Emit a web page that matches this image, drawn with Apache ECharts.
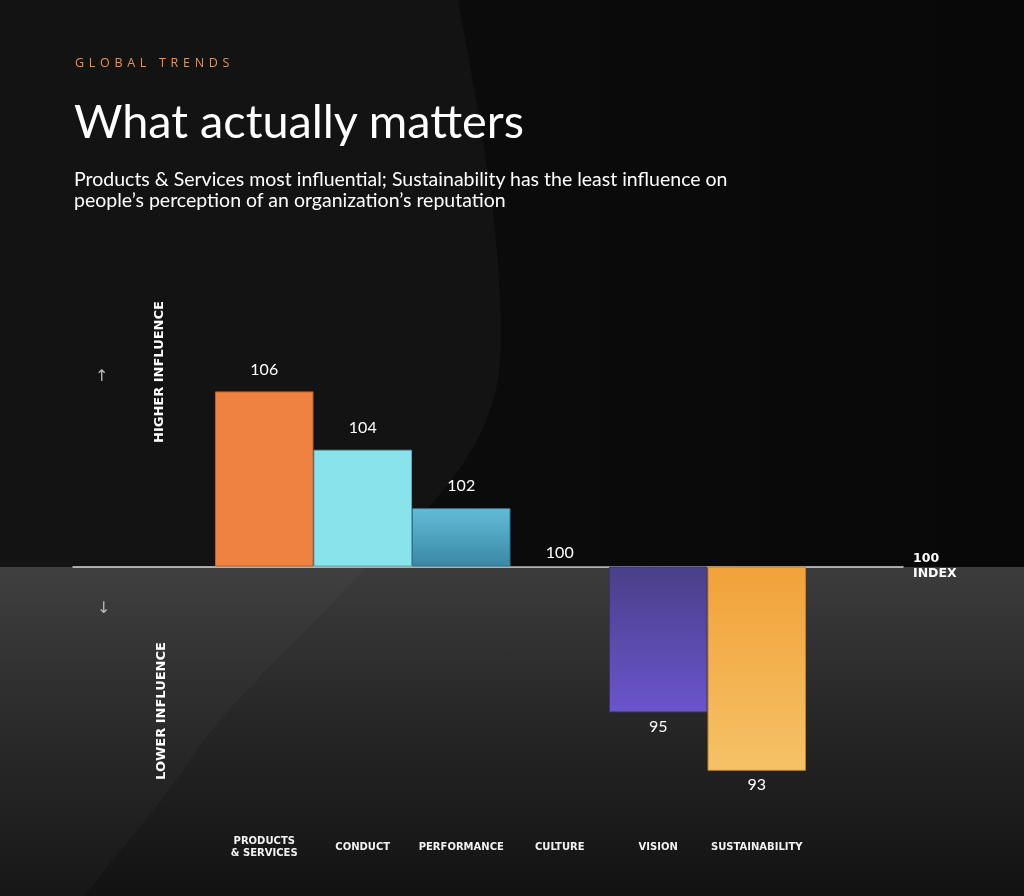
<!DOCTYPE html>
<html>
<head>
<meta charset="utf-8">
<script src="https://cdn.jsdelivr.net/npm/echarts@6/dist/echarts.min.js"></script>
<style>
  html, body { margin: 0; padding: 0; width: 1024px; height: 896px; overflow: hidden; background: #0b0b0b; }
  #bg { position: absolute; left: 0; top: 0; width: 1024px; height: 896px; }
  #header { position: absolute; left: 74px; top: 0; color: #fff; }
  #kicker { position: absolute; top: 54px; left: 1px; font-family: 'Open Sans', sans-serif; font-size: 12.5px; letter-spacing: 4.7px; color: #e8944c; white-space: nowrap; }
  #title { position: absolute; top: 97px; left: 0; font-family: 'Lato', sans-serif; font-size: 46.8px; white-space: nowrap; line-height: 1; }
  #subtitle { position: absolute; top: 168px; left: 0; font-family: 'Lato', sans-serif; font-size: 19.5px; line-height: 21px; white-space: nowrap; }
  #chart { position: absolute; left: 0; top: 0; width: 1024px; height: 896px; }
</style>
</head>
<body>
<svg id="bg" width="1024" height="896" viewBox="0 0 1024 896">
  <defs>
    <linearGradient id="lowBand" x1="0" y1="0" x2="0" y2="1">
      <stop offset="0" stop-color="#3c3c3c"/>
      <stop offset="0.45" stop-color="#272727"/>
      <stop offset="1" stop-color="#121212"/>
    </linearGradient>
    <linearGradient id="topRight" x1="0" y1="0" x2="1" y2="0">
      <stop offset="0" stop-color="#0e0e0e"/>
      <stop offset="1" stop-color="#080808"/>
    </linearGradient>
  </defs>
  <rect x="0" y="0" width="1024" height="567" fill="url(#topRight)"/>
  <path d="M0,0 L458,0 C478,110 505,240 500,360 C496,450 420,520 366,567 L0,567 Z" fill="#131313"/>
  <rect x="0" y="567" width="1024" height="329" fill="url(#lowBand)"/>
  <path d="M0,567 L366,567 C300,640 230,700 190,760 C150,820 110,860 85,896 L0,896 Z" fill="rgba(255,255,255,0.022)"/>
</svg>
<div id="chart"></div>
<div id="header">
  <div id="kicker">GLOBAL TRENDS</div>
  <div id="title">What actually matters</div>
  <div id="subtitle">Products &amp; Services most influential; Sustainability has the least influence on<br>people’s perception of an organization’s reputation</div>
</div>
<script>
// ---- data ----
const categories = ['PRODUCTS\n& SERVICES', 'CONDUCT', 'PERFORMANCE', 'CULTURE', 'VISION', 'SUSTAINABILITY'];
const indexValues = [106, 104, 102, 100, 95, 93];
const baselineIndex = 100;
const sideLabels = ['HIGHER INFLUENCE', 'LOWER INFLUENCE'];
const indexName = '100\nINDEX';

// ---- styles ----
const G = echarts.graphic.LinearGradient;
const barStyles = [
  { color: '#ef8240', borderColor: '#b8612e' },
  { color: '#89e3ea', borderColor: '#5aa9b1' },
  { color: new G(0, 0, 0, 1, [{ offset: 0, color: '#63bdd8' }, { offset: 1, color: '#3a87a5' }]), borderColor: '#2f7590' },
  { color: '#888888', borderColor: '#888888' },
  { color: new G(0, 0, 0, 1, [{ offset: 0, color: '#4a3f88' }, { offset: 1, color: '#6a55cc' }]), borderColor: '#3b3370' },
  { color: new G(0, 0, 0, 1, [{ offset: 0, color: '#f2a239' }, { offset: 1, color: '#f5c266' }]), borderColor: '#b98231' }
];

const barData = indexValues.map((v, i) => {
  const d = v - baselineIndex;
  return {
    value: d,
    itemStyle: Object.assign({ borderWidth: 1 }, barStyles[i]),
    label: d >= 0
      ? { position: 'top', distance: d > 0 ? 14 : 5 }
      : { position: 'bottom', distance: 6 }
  };
});

const chart = echarts.init(document.getElementById('chart'), null, { renderer: 'canvas' });
chart.setOption({
  backgroundColor: 'transparent',
  animation: false,
  grid: [
    { left: 215, right: 218, top: 333, height: 467 },
    { left: 73, right: 121, top: 333, height: 467 }
  ],
  xAxis: [
    {
      type: 'category', gridIndex: 0, data: categories, position: 'bottom',
      axisLine: { show: false, onZero: false }, axisTick: { show: false },
      axisLabel: {
        color: '#f2f2f2', fontFamily: 'DejaVu Sans', fontWeight: 'bold', fontSize: 10,
        lineHeight: 12, margin: 47, verticalAlign: 'middle', interval: 0
      }
    },
    {
      type: 'value', gridIndex: 1, min: 0, max: 1,
      axisLine: { show: true, onZero: true, lineStyle: { color: '#d8d8d8', width: 1.5 } },
      axisTick: { show: false }, axisLabel: { show: false }, splitLine: { show: false },
      name: indexName, nameLocation: 'end', nameGap: 10,
      nameTextStyle: { color: '#ffffff', fontFamily: 'DejaVu Sans', fontWeight: 'bold', fontSize: 12.5, lineHeight: 15, align: 'left', verticalAlign: 'middle' }
    }
  ],
  yAxis: [
    { type: 'value', gridIndex: 0, min: -8, max: 8, show: false },
    { type: 'value', gridIndex: 1, min: -8, max: 8, show: false }
  ],
  graphic: [
    { type: 'text', left: 95, top: 369, style: { text: '↑', fill: '#b8b8b8', font: '16px "DejaVu Sans"' } },
    { type: 'text', left: 97, top: 601, style: { text: '↓', fill: '#b8b8b8', font: '16px "DejaVu Sans"' } },
    { type: 'text', x: 160, y: 372, rotation: Math.PI / 2, style: { text: sideLabels[0], fill: '#ffffff', font: 'bold 13px "DejaVu Sans"', align: 'center', verticalAlign: 'middle' } },
    { type: 'text', x: 162, y: 711, rotation: Math.PI / 2, style: { text: sideLabels[1], fill: '#ffffff', font: 'bold 13px "DejaVu Sans"', align: 'center', verticalAlign: 'middle' } }
  ],
  series: [
    {
      type: 'bar', xAxisIndex: 0, yAxisIndex: 0,
      barCategoryGap: '0%', barWidth: '100%',
      data: barData,
      label: {
        show: true, color: '#ffffff', fontFamily: 'Lato', fontSize: 16,
        formatter: p => String(indexValues[p.dataIndex])
      },
      z: 2
    }
  ]
});
</script>
</body>
</html>
